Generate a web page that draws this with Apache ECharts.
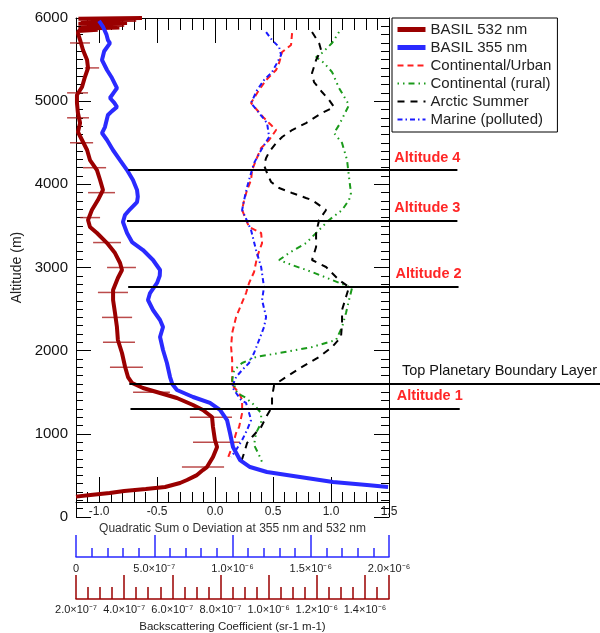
<!DOCTYPE html>
<html>
<head>
<meta charset="utf-8">
<script src="https://cdn.jsdelivr.net/npm/echarts@6/dist/echarts.min.js"></script>
<style>
  html, body { margin: 0; padding: 0; background: #fff; }
  #chart { width: 600px; height: 633px; }
</style>
</head>
<body>
<div id="chart"></div>
<script>
// ---- Profiles: [altitude (m), value] ----
// BASIL 532 nm backscattering coefficient (sr-1 m-1)
const basil532 = [
  [6000, 4.74e-7], [5990, 2.1e-7], [5980, 4.5e-7], [5970, 2.2e-7], [5950, 3.0e-7], [5940, 4.12e-7],
  [5930, 2.1e-7], [5920, 4.0e-7], [5905, 2.2e-7], [5885, 3.8e-7], [5870, 2.1e-7], [5860, 2.9e-7],
  [5845, 2.1e-7], [5819, 2.08e-7], [5735, 2.17e-7], [5615, 2.29e-7], [5495, 2.46e-7], [5399, 2.50e-7],
  [5290, 2.37e-7], [5170, 2.25e-7], [5074, 2.04e-7], [4978, 2.04e-7], [4858, 2.08e-7], [4737, 2.17e-7],
  [4629, 2.08e-7], [4533, 2.25e-7], [4413, 2.46e-7], [4292, 2.58e-7], [4172, 2.87e-7], [4052, 3.00e-7],
  [3932, 3.12e-7], [3811, 2.91e-7], [3691, 2.66e-7], [3571, 2.50e-7], [3487, 2.58e-7], [3415, 2.87e-7],
  [3294, 3.29e-7], [3174, 3.62e-7], [3054, 3.83e-7], [2970, 3.91e-7], [2874, 3.74e-7], [2729, 3.54e-7],
  [2609, 3.54e-7], [2453, 3.62e-7], [2284, 3.70e-7], [2128, 3.74e-7], [1972, 3.91e-7], [1804, 4.04e-7],
  [1683, 4.16e-7], [1611, 4.33e-7], [1551, 4.78e-7], [1491, 5.49e-7], [1431, 6.19e-7], [1347, 6.86e-7],
  [1287, 7.27e-7], [1202, 7.65e-7], [1082, 7.69e-7], [926, 7.77e-7], [842, 7.86e-7], [721, 7.69e-7],
  [601, 7.44e-7], [565, 7.27e-7], [500, 7.0e-7], [445, 6.61e-7], [409, 6.32e-7], [361, 5.7e-7],
  [337, 4.9e-7], [313, 4.0e-7], [289, 3.4e-7], [265, 2.6e-7], [245, 2.0e-7]
];
// BASIL 532 nm error bars: [altitude, lower, upper]
const basil532Err = [
  [5700, 1.75e-7, 2.58e-7], [5400, 2.37e-7, 2.96e-7], [5100, 1.63e-7, 2.50e-7], [4800, 1.63e-7, 2.54e-7],
  [4500, 1.75e-7, 2.71e-7], [4200, 2.29e-7, 3.25e-7], [3900, 2.50e-7, 3.62e-7], [3600, 2.17e-7, 3.00e-7],
  [3300, 2.71e-7, 3.87e-7], [3000, 3.29e-7, 4.49e-7], [2700, 2.91e-7, 4.16e-7], [2400, 3.08e-7, 4.33e-7],
  [2100, 3.12e-7, 4.45e-7], [1800, 3.41e-7, 4.78e-7], [1500, 4.37e-7, 5.90e-7], [1200, 6.73e-7, 8.48e-7],
  [900, 6.86e-7, 8.81e-7], [600, 6.40e-7, 8.15e-7]
];
// BASIL 355 nm backscattering coefficient (sr-1 m-1)
const basil355 = [
  [5964, 1.47e-7], [5892, 1.73e-7], [5800, 1.95e-7], [5735, 2.04e-7], [5699, 2.17e-7], [5600, 1.80e-7],
  [5495, 1.66e-7], [5375, 1.98e-7], [5278, 2.30e-7], [5158, 2.62e-7], [5100, 2.40e-7], [5038, 2.17e-7],
  [4980, 2.45e-7], [4930, 2.62e-7], [4880, 2.30e-7], [4833, 2.04e-7], [4689, 1.85e-7], [4617, 1.66e-7],
  [4533, 1.98e-7], [4413, 2.36e-7], [4292, 2.81e-7], [4172, 3.26e-7], [4052, 3.64e-7], [3932, 3.90e-7],
  [3850, 3.95e-7], [3787, 3.90e-7], [3700, 3.45e-7], [3631, 3.13e-7], [3547, 3.00e-7], [3415, 3.26e-7],
  [3306, 3.58e-7], [3210, 4.28e-7], [3090, 4.92e-7], [2970, 5.37e-7], [2900, 5.35e-7], [2814, 5.18e-7],
  [2693, 4.73e-7], [2609, 4.60e-7], [2489, 4.92e-7], [2369, 5.37e-7], [2284, 5.56e-7], [2164, 5.37e-7],
  [2008, 5.56e-7], [1852, 5.81e-7], [1683, 6.01e-7], [1600, 6.15e-7], [1527, 6.45e-7], [1443, 7.48e-7],
  [1371, 8.56e-7], [1287, 9.20e-7], [1166, 9.65e-7], [1010, 9.84e-7], [842, 1.003e-6], [685, 1.048e-6],
  [601, 1.112e-6], [541, 1.220e-6], [481, 1.431e-6], [421, 1.642e-6], [385, 1.859e-6], [361, 1.994e-6]
];
// Aerosol models: quadratic sum of deviation
const continentalUrban = [
  [5819, 0.664], [5675, 0.655], [5591, 0.578], [5459, 0.552], [5375, 0.526], [5254, 0.440],
  [5134, 0.379], [5038, 0.336], [4978, 0.310], [4894, 0.362], [4797, 0.422], [4713, 0.483],
  [4653, 0.526], [4533, 0.466], [4437, 0.397], [4292, 0.353], [4172, 0.319], [4052, 0.310],
  [3932, 0.276], [3811, 0.250], [3691, 0.233], [3571, 0.267], [3487, 0.293], [3415, 0.397],
  [3294, 0.405], [3126, 0.362], [2946, 0.336], [2814, 0.293], [2693, 0.267], [2549, 0.224],
  [2405, 0.181], [2212, 0.147], [2044, 0.138], [1888, 0.147], [1731, 0.147], [1587, 0.147],
  [1491, 0.207], [1407, 0.233], [1250, 0.233], [1082, 0.207], [1010, 0.181], [842, 0.147], [685, 0.103]
];
const continentalRural = [
  [5831, 1.069], [5699, 1.009], [5579, 0.922], [5531, 0.871], [5459, 0.940], [5350, 1.009],
  [5158, 1.069], [4954, 1.155], [4833, 1.112], [4713, 1.069], [4617, 1.026], [4497, 1.095],
  [4292, 1.138], [4088, 1.155], [3896, 1.172], [3811, 1.155], [3691, 1.095], [3571, 0.983],
  [3451, 0.897], [3294, 0.784], [3174, 0.638], [3090, 0.552], [3030, 0.664], [2946, 0.836],
  [2850, 1.009], [2753, 1.181], [2609, 1.155], [2453, 1.129], [2284, 1.095], [2128, 1.043],
  [2044, 0.836], [1972, 0.552], [1924, 0.353], [1852, 0.233], [1767, 0.164], [1647, 0.147],
  [1491, 0.190], [1431, 0.267], [1347, 0.336], [1250, 0.397], [1130, 0.397], [1010, 0.353],
  [866, 0.336], [745, 0.379], [661, 0.405]
];
const arcticSummer = [
  [5831, 0.836], [5699, 0.897], [5615, 0.914], [5495, 0.871], [5338, 0.836], [5230, 0.853],
  [5110, 0.922], [5014, 0.983], [4930, 1.026], [4858, 0.922], [4737, 0.784], [4653, 0.664],
  [4569, 0.578], [4497, 0.526], [4389, 0.466], [4316, 0.440], [4232, 0.422], [4136, 0.448],
  [4028, 0.483], [3956, 0.552], [3896, 0.664], [3836, 0.784], [3811, 0.836], [3691, 0.957],
  [3571, 0.897], [3415, 0.871], [3246, 0.871], [3090, 0.836], [3006, 0.957], [2850, 1.069],
  [2765, 1.155], [2645, 1.129], [2489, 1.095], [2333, 1.095], [2164, 1.086], [2044, 1.009],
  [1924, 0.897], [1804, 0.750], [1683, 0.612], [1587, 0.509], [1443, 0.491], [1323, 0.491],
  [1202, 0.440], [1082, 0.397], [962, 0.319], [890, 0.276], [769, 0.250], [661, 0.224]
];
const marinePolluted = [
  [5831, 0.440], [5735, 0.491], [5651, 0.552], [5555, 0.569], [5459, 0.534], [5350, 0.491],
  [5254, 0.422], [5134, 0.362], [4978, 0.310], [4858, 0.379], [4737, 0.448], [4569, 0.466],
  [4413, 0.397], [4256, 0.336], [4136, 0.310], [3968, 0.276], [3811, 0.250], [3691, 0.233],
  [3451, 0.310], [3210, 0.353], [3006, 0.397], [2765, 0.422], [2609, 0.405], [2405, 0.440],
  [2284, 0.422], [2128, 0.379], [1972, 0.336], [1852, 0.293], [1767, 0.233], [1683, 0.181],
  [1563, 0.147], [1491, 0.181], [1407, 0.224], [1371, 0.267], [1250, 0.293], [1166, 0.310],
  [1046, 0.276], [926, 0.233], [806, 0.181], [721, 0.138]
];

// Reference altitudes drawn as horizontal lines (x extent in quadratic-sum units)
const refNames = ['Altitude 1', 'Top Planetary Boundary Layer', 'Altitude 2', 'Altitude 3', 'Altitude 4'];
const refAlts = [1300, 1600, 2770, 3560, 4170];
const refStart = [-0.73, -0.74, -0.75, -0.76, -0.75];
const refEnd = [2.11, null, 2.10, 2.09, 2.09];

// Axis settings
const altTicks = { min: 0, max: 6000, interval: 1000 };
const qsTicks = { min: -1.2, max: 1.5, major: [-1.0, -0.5, 0.0, 0.5, 1.0, 1.5] };
const b355Axis = { min: 0, max: 2e-6, interval: 5e-7 };
const b532Axis = { min: 2e-7, max: 1.5e-6, interval: 2e-7 };

const FONT = '"Liberation Sans", Helvetica, Arial, sans-serif';
const grid = { left: 76, right: 211, top: 18, bottom: 116 };
const W = 600;
const plotW = W - grid.left - grid.right;
// Annotation axis spans to the right edge with the same scale as the quadratic-sum axis
const annMax = qsTicks.min + (qsTicks.max - qsTicks.min) * (W - grid.left) / plotW;

const SUP = { '-': '\u207B', '0': '\u2070', '1': '\u00B9', '2': '\u00B2', '3': '\u00B3', '4': '\u2074',
  '5': '\u2075', '6': '\u2076', '7': '\u2077', '8': '\u2078', '9': '\u2079' };
function sci(v, step) {
  if (Math.abs(v) < 1e-15) return '0';
  const k = v / step;
  if (Math.abs(k - Math.round(k)) > 1e-6) return '';
  const e = Math.floor(Math.log10(v) + 1e-9);
  const m = v / Math.pow(10, e);
  return m.toFixed(1) + '\u00D710' + String(e).split('').map(c => SUP[c]).join('');
}

const toXY = arr => arr.map(d => [d[1], d[0]]);

const chart = echarts.init(document.getElementById('chart'), null, { renderer: 'canvas' });

const baseAxis = {
  splitLine: { show: false },
  axisLine: { onZero: false, lineStyle: { color: '#000', width: 1 } }
};

const legendLine = (name, width) => ({ name, lineStyle: { width } });

const option = {
  animation: false,
  backgroundColor: '#fff',
  textStyle: { fontFamily: FONT },
  grid: [
    Object.assign({ outerBoundsMode: 'none' }, grid),
    { left: grid.left, right: 0, top: grid.top, bottom: grid.bottom, outerBoundsMode: 'none' }
  ],
  legend: {
    orient: 'vertical',
    left: 392, top: 18,
    itemWidth: 28, itemHeight: 14, itemGap: 3,
    padding: [4, 6, 5, 3],
    borderColor: '#000', borderWidth: 1, backgroundColor: '#fff',
    itemStyle: { opacity: 0 },
    textStyle: { fontSize: 15, color: '#222', fontFamily: FONT, lineHeight: 14 },
    data: [
      legendLine('BASIL 532 nm', 5), legendLine('BASIL 355 nm', 5),
      legendLine('Continental/Urban', 2), legendLine('Continental (rural)', 2),
      legendLine('Arctic Summer', 2), legendLine('Marine (polluted)', 2)
    ]
  },
  xAxis: [
    // 0: quadratic-sum axis, minor ticks + labels
    Object.assign({}, baseAxis, {
      gridIndex: 0, type: 'value', position: 'bottom', offset: -15,
      min: qsTicks.min, max: qsTicks.max, interval: 0.1,
      axisTick: { inside: true, length: 10, interval: 0, lineStyle: { color: '#000' } },
      axisLabel: {
        interval: 0, margin: 4, fontSize: 12, color: '#222', fontFamily: FONT,
        formatter: v => { const r = Math.round(v * 10); return r % 5 === 0 ? (r / 10).toFixed(1) : ''; }
      },
      name: 'Quadratic Sum o Deviation at 355 nm and 532 nm',
      nameLocation: 'middle', nameGap: 19,
      nameTextStyle: { fontSize: 12, color: '#333', fontFamily: FONT }
    }),
    // 1: quadratic-sum axis, major ticks
    Object.assign({}, baseAxis, {
      gridIndex: 0, type: 'value', position: 'bottom', offset: -15,
      min: qsTicks.min, max: qsTicks.max, interval: 0.1,
      axisLine: { show: false, onZero: false },
      axisTick: { inside: true, length: 25, customValues: qsTicks.major, lineStyle: { color: '#000' } },
      axisLabel: { show: false }
    }),
    // 2: top mirror, minor ticks
    Object.assign({}, baseAxis, {
      gridIndex: 0, type: 'value', position: 'top',
      min: qsTicks.min, max: qsTicks.max, interval: 0.1,
      axisTick: { inside: true, length: 12, interval: 0, lineStyle: { color: '#000' } },
      axisLabel: { show: false }
    }),
    // 3: top mirror, major ticks
    Object.assign({}, baseAxis, {
      gridIndex: 0, type: 'value', position: 'top',
      min: qsTicks.min, max: qsTicks.max, interval: 0.1,
      axisLine: { show: false, onZero: false },
      axisTick: { inside: true, length: 25, customValues: qsTicks.major, lineStyle: { color: '#000' } },
      axisLabel: { show: false }
    }),
    // 4: 355 nm backscatter axis (blue)
    {
      gridIndex: 0, type: 'value', position: 'bottom', offset: 40,
      min: b355Axis.min, max: b355Axis.max, interval: b355Axis.interval,
      splitLine: { show: false },
      axisLine: { onZero: false, lineStyle: { color: '#2a2aff', width: 1.5 } },
      axisTick: { inside: true, length: 22, interval: 0, lineStyle: { color: '#2a2aff', width: 1.5 } },
      minorTick: { show: true, splitNumber: 5, length: 9, lineStyle: { color: '#2a2aff', width: 1.5 } },
      axisLabel: {
        interval: 0, margin: 6, fontSize: 11, color: '#222', fontFamily: FONT,
        formatter: v => sci(v, b355Axis.interval)
      }
    },
    // 5: 532 nm backscatter axis (dark red)
    {
      gridIndex: 0, type: 'value', position: 'bottom', offset: 82,
      min: b532Axis.min, max: b532Axis.max, interval: b532Axis.interval,
      splitLine: { show: false },
      axisLine: { onZero: false, lineStyle: { color: '#9a0000', width: 1.5 } },
      axisTick: { inside: true, length: 24, interval: 0, lineStyle: { color: '#9a0000', width: 1.5 } },
      minorTick: { show: true, splitNumber: 4, length: 12, lineStyle: { color: '#9a0000', width: 1.5 } },
      axisLabel: {
        interval: 0, margin: 5, fontSize: 11, color: '#222', fontFamily: FONT,
        formatter: v => sci(v, b532Axis.interval)
      },
      name: 'Backscattering Coefficient (sr-1 m-1)',
      nameLocation: 'middle', nameGap: 22,
      nameTextStyle: { fontSize: 11.5, color: '#222', fontFamily: FONT }
    },
    // 6: annotation axis (hidden), full width
    { gridIndex: 1, type: 'value', show: false, min: qsTicks.min, max: annMax }
  ],
  yAxis: [
    Object.assign({}, baseAxis, {
      gridIndex: 0, type: 'value', position: 'left',
      min: altTicks.min, max: altTicks.max, interval: altTicks.interval,
      axisTick: { inside: true, length: 15, lineStyle: { color: '#000' } },
      minorTick: { show: true, splitNumber: 10, length: 7, lineStyle: { color: '#000' } },
      axisLabel: { margin: 8, fontSize: 15, color: '#111', fontFamily: FONT, formatter: v => String(v) },
      name: 'Altitude (m)', nameLocation: 'middle', nameGap: 44,
      nameTextStyle: { fontSize: 14, color: '#222', fontFamily: FONT }
    }),
    Object.assign({}, baseAxis, {
      gridIndex: 0, type: 'value', position: 'right',
      min: altTicks.min, max: altTicks.max, interval: altTicks.interval,
      axisTick: { inside: true, length: 15, lineStyle: { color: '#000' } },
      minorTick: { show: true, splitNumber: 10, length: 8, lineStyle: { color: '#000' } },
      axisLabel: { show: false }
    }),
    { gridIndex: 1, type: 'value', show: false, min: altTicks.min, max: altTicks.max }
  ],
  series: [
    {
      name: 'Continental/Urban', type: 'line', xAxisIndex: 0, yAxisIndex: 0,
      data: toXY(continentalUrban), symbol: 'none', color: '#ff2020',
      lineStyle: { color: '#ff2020', width: 2, type: [6, 4] }
    },
    {
      name: 'Continental (rural)', type: 'line', xAxisIndex: 0, yAxisIndex: 0,
      data: toXY(continentalRural), symbol: 'none', color: '#1a9a1a',
      lineStyle: { color: '#1a9a1a', width: 2, type: [1.5, 4, 1.5, 4, 6, 4] }
    },
    {
      name: 'Arctic Summer', type: 'line', xAxisIndex: 0, yAxisIndex: 0,
      data: toXY(arcticSummer), symbol: 'none', color: '#000',
      lineStyle: { color: '#000', width: 2, type: [7, 6] }
    },
    {
      name: 'Marine (polluted)', type: 'line', xAxisIndex: 0, yAxisIndex: 0,
      data: toXY(marinePolluted), symbol: 'none', color: '#1a1aff',
      lineStyle: { color: '#1a1aff', width: 2, type: [5, 3, 1.5, 3] }
    },
    {
      name: 'BASIL 532 nm error', type: 'custom', xAxisIndex: 5, yAxisIndex: 0,
      data: basil532Err, encode: { x: [1, 2], y: 0 }, silent: true, z: 3,
      renderItem: (params, api) => {
        const alt = api.value(0);
        const p1 = api.coord([api.value(1), alt]);
        const p2 = api.coord([api.value(2), alt]);
        return {
          type: 'line',
          shape: { x1: p1[0], y1: p1[1], x2: p2[0], y2: p2[1] },
          style: { stroke: 'rgba(170,30,30,0.8)', lineWidth: 1.5 }
        };
      }
    },
    {
      name: 'BASIL 532 nm', type: 'line', xAxisIndex: 5, yAxisIndex: 0,
      data: toXY(basil532), symbol: 'none', color: '#9a0000', z: 4,
      lineStyle: { color: '#9a0000', width: 4 }
    },
    {
      name: 'BASIL 355 nm', type: 'line', xAxisIndex: 4, yAxisIndex: 0,
      data: toXY(basil355), symbol: 'none', color: '#2a2aff', z: 4,
      lineStyle: { color: '#2a2aff', width: 4 }
    },
    {
      name: 'reference altitudes', type: 'line', xAxisIndex: 6, yAxisIndex: 2,
      data: [], z: 6, silent: true,
      markLine: {
        silent: true, symbol: ['none', 'none'], animation: false,
        lineStyle: { color: '#000', width: 2, type: 'solid' },
        data: refNames.map((n, i) => {
          const isPbl = n.indexOf('Top') === 0;
          return [
            {
              name: n, coord: [refStart[i], refAlts[i]],
              label: {
                show: true, position: 'insideEndTop', formatter: '{b}',
                distance: isPbl ? [3, 5] : [-3, 5],
                color: isPbl ? '#111' : '#ff2626', fontWeight: isPbl ? 'normal' : 'bold',
                fontSize: isPbl ? 14.5 : 14.5, fontFamily: FONT
              }
            },
            { coord: [refEnd[i] === null ? annMax : refEnd[i], refAlts[i]] }
          ];
        })
      }
    }
  ]
};

chart.setOption(option);
</script>
</body>
</html>
